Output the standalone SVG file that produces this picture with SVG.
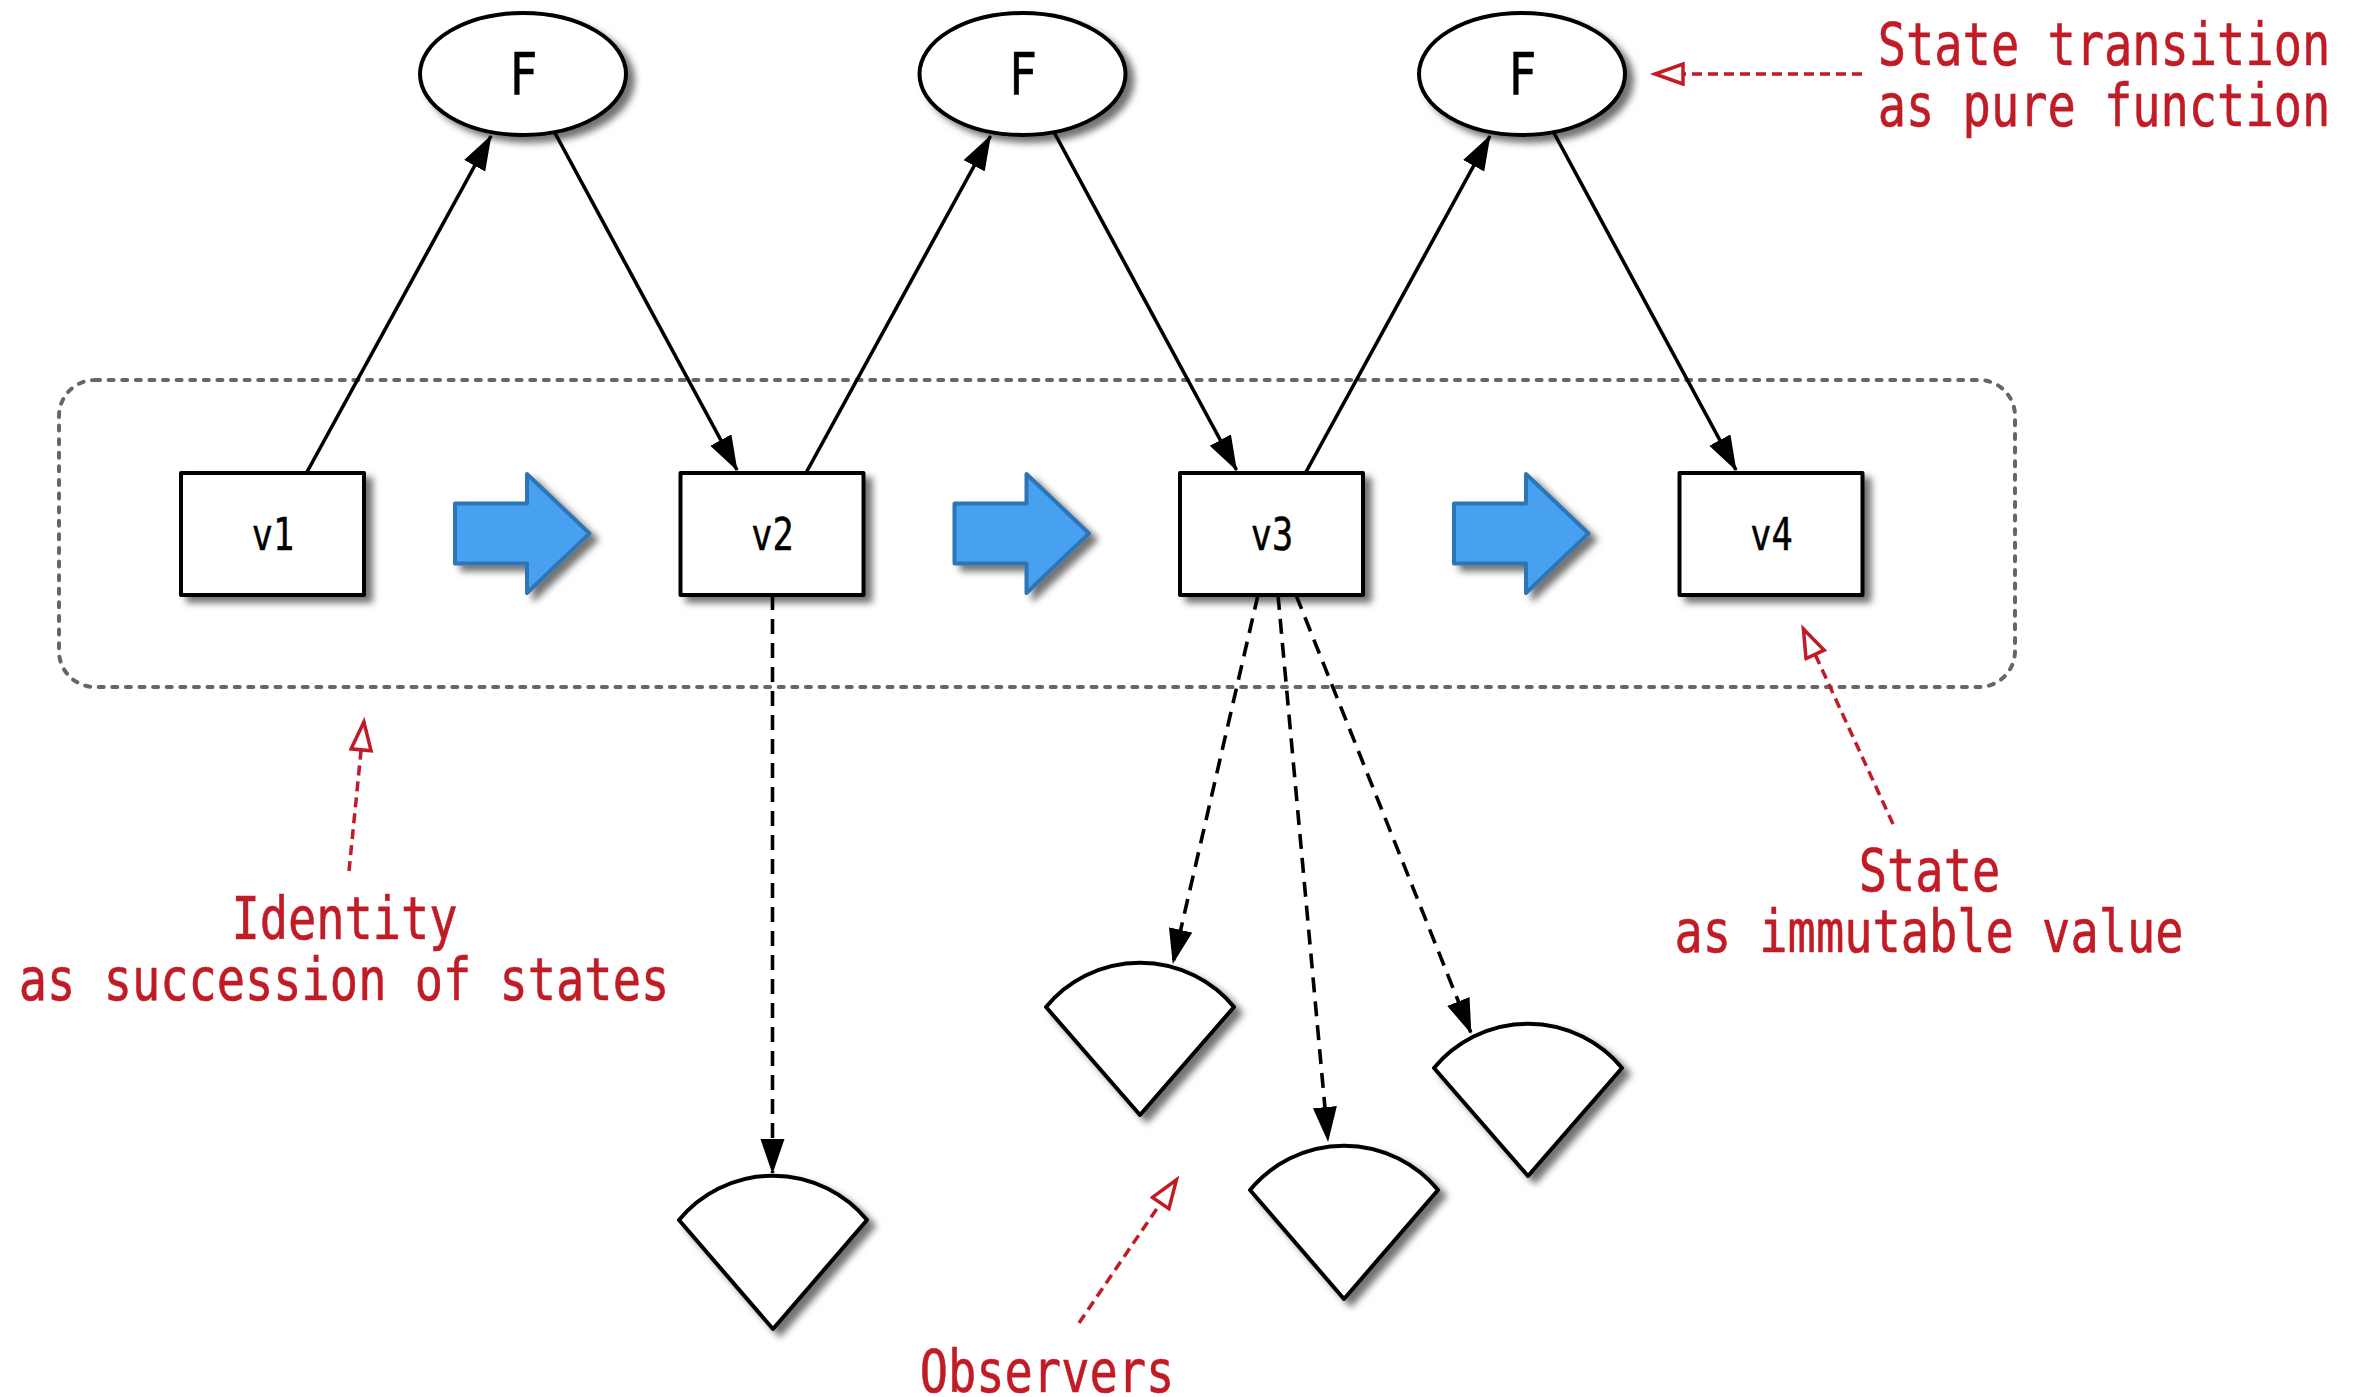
<svg xmlns="http://www.w3.org/2000/svg" width="2363" height="1397" viewBox="0 0 2363 1397">
<style>
.node{fill:#fff;stroke:#000;stroke-width:4;stroke-linejoin:round}
.flow{fill:#47A1F0;stroke:#2F74B5;stroke-width:4;stroke-linejoin:round}
.solid{fill:none;stroke:#000;stroke-width:3.600;marker-end:url(#ah)}
.dash{fill:none;stroke:#000;stroke-width:3.600;stroke-dasharray:15 9;marker-end:url(#ah)}
.note{fill:none;stroke:#C11B26;stroke-width:3.500;stroke-dasharray:10 6;marker-end:url(#hollow)}
text{font-family:"DejaVu Sans Mono","Liberation Mono",monospace;text-anchor:middle}
.v{font-size:44px;fill:#000;stroke:#000;stroke-width:.5}
.f{font-size:58px;fill:#000;stroke:#000;stroke-width:.5}
.r{font-size:58px;fill:#C11B26;stroke:#C11B26;stroke-width:.6}
</style>
<defs>
<filter id="sh" x="-20%" y="-20%" width="150%" height="150%"><feDropShadow dx="7" dy="6" stdDeviation="3.500" flood-color="#000" flood-opacity="0.55"/></filter>
<marker id="ah" markerUnits="userSpaceOnUse" markerWidth="40" markerHeight="30" refX="34" refY="12" orient="auto"><path d="M0 0L35 12L0 24Z" fill="#000"/></marker>
<marker id="hollow" markerUnits="userSpaceOnUse" markerWidth="40" markerHeight="30" refX="32" refY="12" orient="auto"><path d="M3 2L31 12L3 22Z" fill="#fff" stroke="#C11B26" stroke-width="3.500"/></marker>
</defs>

<rect id="identity" x="59" y="380" width="1956" height="307" rx="36" fill="none" stroke="#666" stroke-width="4" stroke-linecap="round" stroke-dasharray="5 8.600"/>

<g id="connectors">
<path class="solid" d="M307 472L491 136"/>
<path class="solid" d="M555 133L737 470"/>
<path class="solid" d="M806.500 472L990.500 136"/>
<path class="solid" d="M1054.500 133L1236.500 470"/>
<path class="solid" d="M1306 472L1490 136"/>
<path class="solid" d="M1554 133L1736 470"/>
<path class="dash" d="M772.500 595L772.500 1173"/>
<path class="dash" d="M1258 595L1173 963"/>
<path class="dash" d="M1278 595L1328 1141"/>
<path class="dash" d="M1296 595L1471 1033"/>
<path class="note" d="M1862 74L1654 74"/>
<path class="note" d="M349 871L364 721"/>
<path class="note" d="M1893 824L1803 628"/>
<path class="note" d="M1079 1323L1177 1179"/>
</g>

<g id="f1"><ellipse class="node" filter="url(#sh)" cx="523" cy="74" rx="103" ry="61"/><text class="f" transform="translate(523.500 95) scale(.81 1)">F</text></g>
<g id="f2"><ellipse class="node" filter="url(#sh)" cx="1022.500" cy="74" rx="103" ry="61"/><text class="f" transform="translate(1023 95) scale(.81 1)">F</text></g>
<g id="f3"><ellipse class="node" filter="url(#sh)" cx="1522" cy="74" rx="103" ry="61"/><text class="f" transform="translate(1522.500 95) scale(.81 1)">F</text></g>

<g id="v1"><rect class="node" filter="url(#sh)" x="181" y="473" width="183" height="122"/><text class="v" transform="translate(273 550) scale(.8 1)">v1</text></g>
<g id="v2"><rect class="node" filter="url(#sh)" x="680.500" y="473" width="183" height="122"/><text class="v" transform="translate(772.500 550) scale(.8 1)">v2</text></g>
<g id="v3"><rect class="node" filter="url(#sh)" x="1180" y="473" width="183" height="122"/><text class="v" transform="translate(1272 550) scale(.8 1)">v3</text></g>
<g id="v4"><rect class="node" filter="url(#sh)" x="1679.500" y="473" width="183" height="122"/><text class="v" transform="translate(1771.500 550) scale(.8 1)">v4</text></g>

<g id="flow1"><path class="flow" filter="url(#sh)" d="M455 503.500H527V474L589.500 533.500L527 593V563.500H455Z"/></g>
<g id="flow2"><path class="flow" filter="url(#sh)" d="M954.500 503.500H1026.500V474L1089 533.500L1026.500 593V563.500H954.500Z"/></g>
<g id="flow3"><path class="flow" filter="url(#sh)" d="M1454 503.500H1526V474L1588.500 533.500L1526 593V563.500H1454Z"/></g>

<g id="obs1"><path class="node" filter="url(#sh)" d="M679 1220A122 122 0 0 1 867 1220L773 1329Z"/></g>
<g id="obs2"><path class="node" filter="url(#sh)" d="M1046 1007A122 122 0 0 1 1234 1007L1140 1115Z"/></g>
<g id="obs3"><path class="node" filter="url(#sh)" d="M1250 1190A122 122 0 0 1 1438 1190L1344 1299Z"/></g>
<g id="obs4"><path class="node" filter="url(#sh)" d="M1434 1068A122 122 0 0 1 1622 1068L1528 1176Z"/></g>

<g id="labels">
<text class="r" transform="translate(2104 65) scale(.81 1)">State transition</text>
<text class="r" transform="translate(2104 126) scale(.81 1)">as pure function</text>
<text class="r" transform="translate(344.500 939) scale(.81 1)">Identity</text>
<text class="r" transform="translate(344 1000) scale(.81 1)">as succession of states</text>
<text class="r" transform="translate(1929.500 891) scale(.81 1)">State</text>
<text class="r" transform="translate(1929 952) scale(.81 1)">as immutable value</text>
<text class="r" transform="translate(1047 1392) scale(.81 1)">Observers</text>
</g>
</svg>
